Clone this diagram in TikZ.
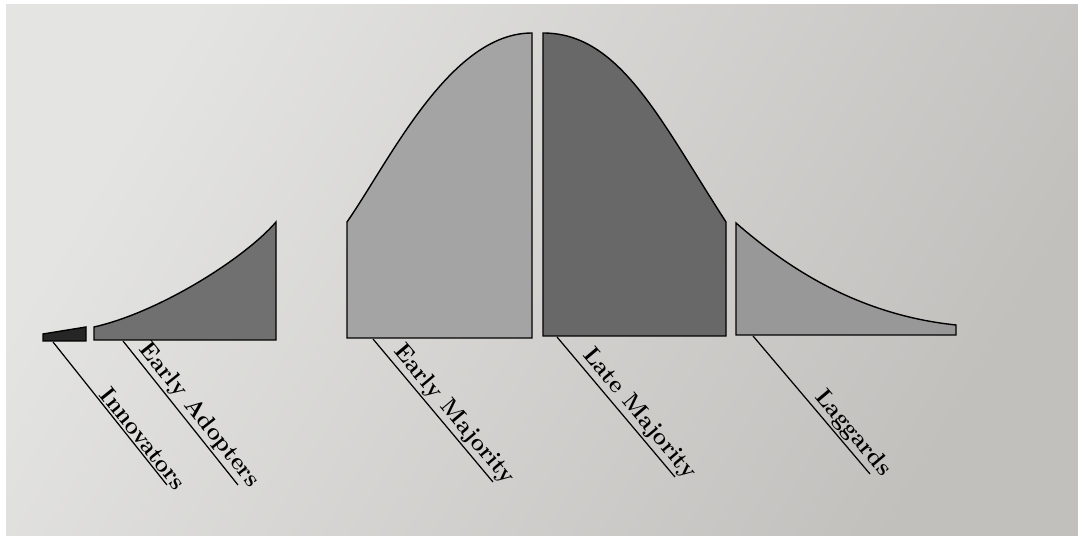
\documentclass[tikz,border=0pt]{standalone}
\usepackage{tikz}
\usetikzlibrary{positioning, calc}
\definecolor{paperLight}{RGB}{228,228,226}
\definecolor{paperDark}{RGB}{194,192,189}
\definecolor{innFill}{RGB}{38,38,38}
\definecolor{eaFill}{RGB}{112,112,112}
\definecolor{emFill}{RGB}{164,164,164}
\definecolor{lmFill}{RGB}{104,104,104}
\definecolor{lagFill}{RGB}{152,152,152}

\begin{document}
\begin{tikzpicture}[
  x=0.02cm, y=-0.02cm,
  segment/.style={draw=black, line width=0.8pt, line join=miter},
  leader/.style={draw=black, line width=0.7pt},
  lbl/.style={font=\fontsize{13.5}{15}\selectfont\bfseries, sloped, pos=1.07,
              anchor=south east, inner sep=1.2pt},
]
  \useasboundingbox (0,0) rectangle (1078,536);
  \fill[white] (0,0) rectangle (1078,536);
  \shade[top color=paperLight, bottom color=paperDark, shading angle=60]
    (6,5) rectangle (1078,536);

  \path[segment, fill=innFill] (43,341) -- (43,334) -- (86,327) -- (86,341) -- cycle;
  \path[segment, fill=eaFill] (94,340) -- (94,327)
    .. controls (160,312) and (245,258) .. (276,222) -- (276,340) -- cycle;
  \path[segment, fill=emFill] (347,338) -- (347,222)
    .. controls (390,160) and (450,33) .. (532,33) -- (532,338) -- cycle;
  \path[segment, fill=lmFill] (543,336) -- (543,33)
    .. controls (620,33) and (660,120) .. (726,222) -- (726,336) -- cycle;
  \path[segment, fill=lagFill] (736,335) -- (736,223)
    .. controls (790,270) and (860,315) .. (956,325) -- (956,335) -- cycle;

  \coordinate (inn-base) at (53,342);
  \coordinate (inn-end)  at (167,485);
  \coordinate (ea-base)  at (123,341);
  \coordinate (ea-end)   at (238,485);
  \coordinate (em-base)  at (373,339);
  \coordinate (em-end)   at (493,482);
  \coordinate (lm-base)  at (557,337);
  \coordinate (lm-end)   at (675,477);
  \coordinate (lag-base) at (753,336);
  \coordinate (lag-end)  at (870,474);

  \draw[leader] (inn-base) -- (inn-end);
  \draw[leader] (ea-base) -- (ea-end);
  \draw[leader] (em-base) -- (em-end);
  \draw[leader] (lm-base) -- (lm-end);
  \draw[leader] (lag-base) -- (lag-end);

  \path (inn-base) -- (inn-end) node[lbl] (inn-lbl) {Innovators};
  \path (ea-base) -- (ea-end) node[lbl] (ea-lbl) {Early Adopters};
  \path (em-base) -- (em-end) node[lbl] (em-lbl) {Early Majority};
  \path (lm-base) -- (lm-end) node[lbl] (lm-lbl) {Late Majority};
  \path (lag-base) -- (lag-end) node[lbl] (lag-lbl) {Laggards};
\end{tikzpicture}
\end{document}
